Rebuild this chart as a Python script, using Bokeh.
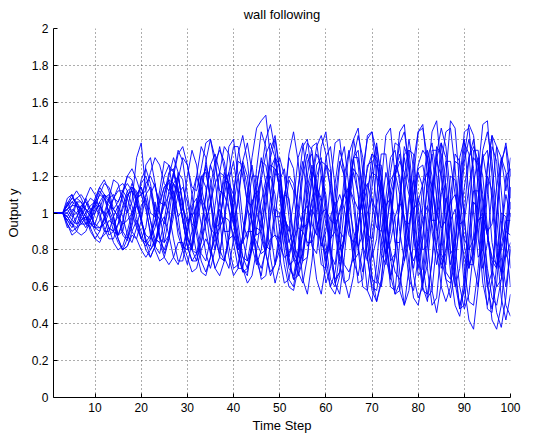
from bokeh.plotting import figure
from bokeh.models import ColumnDataSource, FixedTicker, Range1d
from bokeh.embed import file_html
from bokeh.resources import INLINE

title_text = "wall following"
x_label = "Time Step"
y_label = "Output y"
x_ticks = [10, 20, 30, 40, 50, 60, 70, 80, 90, 100]
y_ticks = [0, 0.2, 0.4, 0.6, 0.8, 1, 1.2, 1.4, 1.6, 1.8, 2]

s01 = [1,1,1,1.05,1.1,1.04,0.96,0.92,0.98,1.06,1.12,1.08,1.04,1.02,0.98,0.88,0.85,0.93,1.05,1.16,1.2,1.12,0.98,0.86,0.8,0.88,1.02,1.18,1.3,1.26,1.1,0.92,0.78,0.74,0.86,1.04,1.22,1.36,1.32,1.14,0.94,0.76,0.7,0.82,1.02,1.22,1.4,1.48,1.34,1.1,0.86,0.7,0.66,0.8,1.0,1.2,1.36,1.38,1.2,0.98,0.76,0.62,0.68,0.88,1.1,1.3,1.42,1.3,1.06,0.82,0.64,0.6,0.76,0.98,1.2,1.38,1.44,1.26,1.0,0.76,0.58,0.56,0.74,1.0,1.26,1.44,1.46,1.24,0.96,0.7,0.52,0.5,0.7,0.98,1.26,1.42,1.36,1.12,0.84,0.6]
s02 = [1,1,1,0.96,0.92,0.97,1.04,1.06,1.0,0.92,0.9,0.97,1.08,1.1,1.02,0.9,0.86,0.95,1.1,1.14,1.04,0.88,0.82,0.92,1.1,1.18,1.06,0.88,0.8,0.9,1.1,1.2,1.1,0.9,0.78,0.86,1.06,1.22,1.16,0.96,0.8,0.84,1.02,1.2,1.2,1.0,0.82,0.8,0.98,1.18,1.24,1.06,0.84,0.76,0.9,1.14,1.26,1.12,0.88,0.74,0.84,1.08,1.28,1.2,0.94,0.74,0.78,1.02,1.26,1.28,1.04,0.78,0.72,0.94,1.22,1.32,1.12,0.84,0.7,0.86,1.16,1.34,1.2,0.9,0.7,0.78,1.08,1.32,1.28,0.98,0.72,0.72,1.0,1.3,1.34,1.06,0.76,0.68,0.92,1.24]
s03 = [1,1,1,0.98,0.94,0.9,0.88,0.9,0.96,1.02,1.04,1.0,0.92,0.84,0.8,0.82,0.9,1.0,1.08,1.1,1.02,0.9,0.8,0.74,0.76,0.86,0.98,1.1,1.14,1.06,0.92,0.78,0.68,0.66,0.76,0.92,1.08,1.18,1.16,1.02,0.84,0.7,0.62,0.66,0.8,0.98,1.14,1.2,1.1,0.9,0.72,0.6,0.58,0.7,0.9,1.1,1.22,1.18,0.98,0.76,0.6,0.56,0.66,0.88,1.1,1.24,1.2,1.0,0.76,0.58,0.52,0.64,0.88,1.12,1.26,1.2,0.96,0.72,0.54,0.5,0.64,0.9,1.14,1.28,1.2,0.94,0.68,0.5,0.44,0.6,0.88,1.16,1.3,1.2,0.92,0.64,0.46,0.38,0.54,0.82]
s04 = [1,1,1,1.04,1.08,1.06,1.0,0.96,1.0,1.08,1.14,1.1,1.0,0.94,0.98,1.1,1.2,1.18,1.06,0.96,1.26,1.3,1.16,1.0,0.94,1.04,1.22,1.34,1.28,1.1,0.94,0.92,1.08,1.28,1.4,1.3,1.08,0.9,0.9,1.1,1.32,1.42,1.28,1.04,0.88,0.9,1.12,1.34,1.42,1.24,1.0,0.84,0.9,1.14,1.36,1.4,1.2,0.96,0.82,0.9,1.16,1.38,1.4,1.18,0.94,0.8,0.9,1.18,1.42,1.44,1.2,0.92,0.78,0.9,1.2,1.44,1.48,1.22,0.9,0.74,0.86,1.16,1.44,1.5,1.24,0.92,0.72,0.84,1.16,1.44,1.46,1.18,0.86,0.7,0.84,1.12,1.36,1.3,1.12,1.3]
s05 = [1,1,1,1.02,0.98,1.0,1.04,1.02,0.98,1.0,1.06,1.1,1.06,1.02,1.06,1.12,1.16,1.12,1.08,1.1,1.16,1.2,1.14,1.06,1.04,1.1,1.16,1.12,1.02,0.96,0.98,1.04,1.08,1.02,0.92,0.88,0.92,0.98,0.96,0.88,0.82,0.84,0.9,0.9,0.84,0.78,0.8,0.86,0.88,0.82,0.76,0.78,0.86,0.92,0.9,0.84,0.84,0.92,1.0,1.02,0.96,0.94,1.0,1.1,1.14,1.08,1.02,1.04,1.14,1.22,1.2,1.1,1.04,1.08,1.2,1.28,1.22,1.1,1.02,1.06,1.16,1.22,1.14,1.0,0.92,0.96,1.06,1.1,1.0,0.86,0.8,0.86,0.96,0.98,0.88,0.76,0.72,0.8,0.9,0.88]
s06 = [1,1,1,1.06,1.0,0.94,1.0,1.08,1.02,0.92,0.96,1.08,1.1,0.98,0.88,0.94,1.1,1.12,0.98,0.86,0.92,1.1,1.16,1.0,0.84,0.88,1.08,1.2,1.06,0.86,0.82,1.0,1.2,1.14,0.92,0.8,0.92,1.16,1.22,1.0,0.8,0.86,1.1,1.26,1.1,0.86,0.78,0.98,1.24,1.2,0.94,0.76,0.86,1.14,1.28,1.08,0.82,0.78,1.0,1.26,1.22,0.94,0.74,0.84,1.12,1.3,1.1,0.82,0.74,0.96,1.26,1.26,0.98,0.74,0.78,1.06,1.3,1.16,0.86,0.7,0.86,1.18,1.32,1.08,0.78,0.72,0.98,1.28,1.26,0.96,0.72,0.78,1.08,1.32,1.16,0.84,0.7,0.88,1.2,1.24]
s07 = [1,1,1,0.94,0.9,0.92,0.98,1.04,1.08,1.06,1.0,0.92,0.86,0.86,0.94,1.04,1.12,1.14,1.08,0.96,0.86,0.8,0.84,0.96,1.1,1.22,1.24,1.12,0.96,0.82,0.74,0.78,0.92,1.1,1.26,1.32,1.22,1.02,0.82,0.7,0.72,0.88,1.08,1.3,1.46,1.5,1.53,1.3,1.0,0.76,0.62,0.64,0.8,1.02,1.24,1.38,1.34,1.14,0.9,0.7,0.6,0.68,0.88,1.12,1.32,1.4,1.26,1.0,0.76,0.6,0.58,0.74,0.98,1.22,1.38,1.36,1.14,0.88,0.66,0.54,0.6,0.82,1.08,1.32,1.46,1.36,1.1,0.82,0.6,0.48,0.56,0.8,1.08,1.34,1.44,1.28,0.98,0.7,0.5,0.44]
s08 = [1,1,1,0.96,0.94,0.98,1.02,0.98,0.9,0.86,0.9,0.98,1.02,0.96,0.86,0.8,0.86,0.98,1.04,0.96,0.84,0.76,0.82,0.96,1.06,1.0,0.86,0.74,0.74,0.88,1.04,1.08,0.94,0.78,0.7,0.8,0.98,1.1,1.02,0.84,0.7,0.7,0.86,1.06,1.12,0.98,0.78,0.66,0.72,0.92,1.1,1.08,0.88,0.68,0.62,0.76,0.98,1.14,1.06,0.84,0.64,0.6,0.78,1.02,1.16,1.04,0.8,0.6,0.58,0.78,1.04,1.18,1.02,0.76,0.56,0.58,0.82,1.08,1.18,0.98,0.72,0.54,0.58,0.84,1.1,1.16,0.94,0.66,0.5,0.58,0.86,1.12,1.12,0.86,0.6,0.48,0.62,0.9,1.1,0.98]
s09 = [1,1,1,1.02,1.06,1.04,0.98,0.94,0.96,1.04,1.1,1.08,1.0,0.9,0.88,0.96,1.08,1.16,1.1,1.14,1.06,0.96,0.86,0.84,0.96,1.12,1.22,1.14,0.96,0.82,0.8,0.94,1.14,1.26,1.18,0.98,0.8,0.74,0.88,1.1,1.28,1.26,1.04,0.82,0.72,0.8,1.02,1.24,1.3,1.12,0.88,0.72,0.74,0.96,1.2,1.32,1.18,0.92,0.72,0.7,0.9,1.16,1.34,1.24,0.98,0.74,0.66,0.82,1.08,1.32,1.3,1.04,0.76,0.64,0.78,1.06,1.32,1.34,1.08,0.78,0.62,0.72,1.0,1.3,1.38,1.12,0.8,0.6,0.7,1.0,1.3,1.4,1.14,0.82,0.6,0.68,0.98,1.28,1.36,1.08]
s10 = [1,1,1,1.0,1.04,1.08,1.1,1.06,1.02,1.04,1.1,1.16,1.14,1.08,1.06,1.12,1.2,1.24,1.18,1.1,1.12,1.22,1.3,1.26,1.16,1.12,1.2,1.32,1.36,1.26,1.14,1.12,1.24,1.38,1.4,1.26,1.12,1.1,1.22,1.36,1.36,1.2,1.06,1.04,1.16,1.28,1.26,1.1,0.98,0.98,1.1,1.2,1.16,1.02,0.92,0.94,1.06,1.14,1.08,0.94,0.86,0.9,1.02,1.1,1.04,0.9,0.82,0.88,1.0,1.08,1.0,0.86,0.78,0.84,0.98,1.06,0.98,0.82,0.74,0.82,0.96,1.04,0.94,0.8,0.72,0.8,0.96,1.02,0.9,0.76,0.7,0.8,0.96,1.0,0.88,0.74,0.7,0.82,0.96,0.96]
s11 = [1,1,1,0.98,0.94,0.92,0.94,0.98,0.96,0.9,0.86,0.88,0.92,0.9,0.84,0.8,0.82,0.88,0.86,0.8,0.76,0.8,0.86,0.84,0.76,0.72,0.76,0.84,0.84,0.76,0.68,0.7,0.8,0.86,0.8,0.7,0.66,0.74,0.86,0.88,0.78,0.68,0.68,0.8,0.92,0.9,0.78,0.68,0.72,0.86,0.96,0.92,0.8,0.72,0.78,0.94,1.02,0.96,0.84,0.78,0.86,1.02,1.1,1.02,0.88,0.84,0.94,1.1,1.16,1.06,0.92,0.9,1.02,1.18,1.22,1.1,0.96,0.94,1.08,1.24,1.26,1.12,0.96,0.96,1.12,1.28,1.28,1.1,0.94,0.96,1.14,1.3,1.26,1.06,0.9,0.94,1.14,1.3,1.22,1.02]
s12 = [1,1,1,1.04,1.06,1.08,1.06,1.02,0.98,0.94,0.92,0.94,1.0,1.08,1.14,1.16,1.12,1.04,0.94,0.86,0.82,0.86,0.96,1.08,1.2,1.26,1.22,1.1,0.96,0.82,0.74,0.74,0.84,0.98,1.14,1.28,1.34,1.28,1.12,0.94,0.78,0.68,0.7,0.82,1.0,1.18,1.32,1.38,1.3,1.12,0.92,0.74,0.64,0.66,0.8,1.0,1.2,1.36,1.42,1.32,1.12,0.9,0.72,0.62,0.64,0.8,1.02,1.24,1.4,1.44,1.32,1.1,0.86,0.66,0.56,0.62,0.8,1.04,1.28,1.44,1.46,1.3,1.04,0.8,0.6,0.52,0.6,0.82,1.08,1.32,1.48,1.42,1.2,0.94,0.7,0.54,0.5,0.64,0.9,1.14]
s13 = [1,1,1,0.92,0.96,1.06,1.02,0.94,0.92,1.0,1.06,0.98,0.88,0.9,1.02,1.1,1.02,0.9,0.86,0.96,1.1,1.14,1.0,0.86,0.84,0.98,1.16,1.2,1.04,0.86,0.8,0.96,1.18,1.24,1.06,0.86,0.78,0.94,1.18,1.28,1.1,0.86,0.74,0.88,1.14,1.3,1.16,0.9,0.72,0.8,1.06,1.3,1.24,0.96,0.74,0.76,1.0,1.26,1.3,1.04,0.78,0.72,0.92,1.2,1.34,1.12,0.82,0.68,0.84,1.14,1.36,1.2,0.88,0.66,0.76,1.08,1.36,1.28,0.94,0.66,0.7,1.0,1.34,1.34,1.0,0.68,0.64,0.94,1.3,1.4,1.08,0.72,0.6,0.86,1.24,1.42,1.14,0.76,0.6,0.8]
s14 = [1,1,1,1.0,0.96,0.94,0.96,1.0,1.04,1.06,1.04,0.98,0.92,0.9,0.94,1.02,1.1,1.12,1.06,0.96,0.88,0.86,0.92,1.04,1.14,1.16,1.06,0.92,0.82,0.8,0.9,1.06,1.2,1.22,1.08,0.9,0.76,0.74,0.86,1.04,1.2,1.26,1.14,0.94,0.76,0.7,0.8,1.0,1.2,1.3,1.2,0.98,0.76,0.66,0.74,0.96,1.18,1.32,1.26,1.04,0.8,0.64,0.68,0.9,1.14,1.3,1.3,1.1,0.84,0.64,0.62,0.82,1.08,1.3,1.34,1.16,0.88,0.64,0.58,0.76,1.04,1.3,1.38,1.2,0.9,0.64,0.54,0.7,1.0,1.28,1.4,1.24,0.92,0.62,0.5,0.64,0.96,1.26,1.38,1.2]
s15 = [1,1,1,1.08,1.1,1.04,1.02,1.08,1.14,1.1,1.02,1.0,1.08,1.18,1.16,1.06,1.0,1.06,1.3,1.38,1.12,1.0,0.98,1.12,1.28,1.26,1.1,0.98,1.02,1.2,1.34,1.26,1.06,0.96,1.04,1.24,1.36,1.24,1.02,0.94,1.06,1.28,1.38,1.22,1.0,0.92,1.06,1.3,1.4,1.22,0.98,0.9,1.06,1.3,1.38,1.18,0.94,0.88,1.06,1.3,1.36,1.14,0.9,0.86,1.06,1.3,1.34,1.1,0.88,0.86,1.08,1.32,1.32,1.06,0.84,0.84,1.08,1.34,1.32,1.04,0.8,0.82,1.1,1.36,1.32,1.02,0.78,0.82,1.1,1.38,1.32,1.0,0.76,0.8,1.1,1.36,1.28,0.96,0.76,0.84]
s16 = [1,1,1,0.94,0.88,0.9,0.96,0.98,0.92,0.86,0.84,0.9,0.96,0.94,0.86,0.8,0.82,0.9,0.96,0.9,0.8,0.76,0.82,0.94,0.98,0.88,0.76,0.72,0.8,0.94,1.0,0.88,0.74,0.68,0.76,0.92,1.02,0.92,0.76,0.66,0.7,0.88,1.02,0.96,0.78,0.64,0.66,0.84,1.02,1.0,0.8,0.64,0.6,0.78,1.0,1.04,0.84,0.64,0.56,0.72,0.98,1.06,0.88,0.64,0.54,0.66,0.94,1.08,0.92,0.66,0.52,0.62,0.9,1.08,0.96,0.68,0.5,0.58,0.86,1.08,0.98,0.7,0.5,0.54,0.82,1.08,1.0,0.72,0.48,0.5,0.78,1.06,1.02,0.74,0.48,0.46,0.72,1.0,0.98,0.7]
s17 = [1,1,1,1.02,1.04,1.04,1.02,0.98,0.94,0.92,0.92,0.96,1.02,1.08,1.12,1.12,1.08,1.0,0.92,0.86,0.84,0.88,0.96,1.06,1.14,1.18,1.16,1.08,0.98,0.88,0.8,0.78,0.84,0.94,1.06,1.16,1.22,1.2,1.1,0.98,0.86,0.76,0.74,0.8,0.92,1.06,1.18,1.26,1.24,1.14,1.0,0.86,0.76,0.72,0.78,0.92,1.08,1.2,1.28,1.26,1.14,0.98,0.84,0.72,0.68,0.76,0.92,1.1,1.24,1.32,1.28,1.14,0.96,0.8,0.68,0.64,0.74,0.92,1.1,1.26,1.34,1.3,1.14,0.94,0.76,0.64,0.62,0.74,0.94,1.14,1.3,1.36,1.28,1.1,0.88,0.7,0.6,0.64,0.8,1.0]
s18 = [1,1,1,0.98,1.02,1.0,0.94,0.94,1.0,1.04,0.98,0.9,0.9,0.98,1.04,0.98,0.88,0.84,0.92,1.04,1.08,0.96,0.82,0.78,0.9,1.06,1.12,0.98,0.8,0.72,0.84,1.04,1.14,1.02,0.82,0.7,0.76,0.98,1.16,1.1,0.88,0.7,0.66,0.86,1.1,1.18,1.0,0.76,0.62,0.72,0.98,1.18,1.12,0.88,0.64,0.56,0.74,1.02,1.2,1.1,0.84,0.62,0.56,0.76,1.04,1.22,1.1,0.82,0.58,0.52,0.72,1.02,1.22,1.12,0.84,0.58,0.5,0.7,1.0,1.22,1.14,0.86,0.58,0.46,0.62,0.94,1.2,1.18,0.9,0.6,0.42,0.37,0.6,0.94,1.2,1.12,0.82,0.54,0.42,0.56]
s19 = [1,1,1,1.04,1.08,1.12,1.08,1.02,1.0,1.06,1.14,1.18,1.12,1.02,0.98,0.94,0.96,1.0,1.06,1.18,1.24,1.16,1.02,0.96,1.04,1.2,1.3,1.22,1.04,0.94,1.0,1.2,1.36,1.3,1.08,0.92,0.94,1.14,1.36,1.4,1.2,0.96,0.86,0.98,1.24,1.44,1.36,1.1,0.88,0.86,1.06,1.32,1.44,1.28,1.0,0.82,0.86,1.1,1.36,1.44,1.24,0.96,0.8,0.86,1.14,1.4,1.46,1.22,0.92,0.76,0.86,1.16,1.42,1.46,1.2,0.9,0.74,0.86,1.18,1.44,1.48,1.22,0.9,0.72,0.84,1.2,1.5,1.46,1.14,0.82,0.7,0.88,1.22,1.48,1.5,1.2,0.86,0.66,0.8,1.14]
s20 = [1,1,1,0.96,1.0,1.06,1.06,1.0,0.94,0.94,1.02,1.1,1.08,0.98,0.88,0.9,1.02,1.14,1.12,0.98,0.84,0.82,1.06,0.88,0.78,0.86,1.06,1.22,1.18,0.98,0.8,0.74,0.88,1.1,1.26,1.18,0.96,0.76,0.7,0.86,1.1,1.28,1.2,0.96,0.74,0.66,0.82,1.08,1.3,1.26,1.0,0.76,0.64,0.76,1.02,1.28,1.32,1.08,0.8,0.62,0.7,0.98,1.26,1.36,1.14,0.84,0.62,0.64,0.92,1.24,1.38,1.18,0.86,0.6,0.58,0.84,1.18,1.4,1.24,0.9,0.6,0.52,0.74,1.1,1.38,1.3,0.96,0.62,0.48,0.64,1.0,1.34,1.34,1.0,0.64,0.42,0.37,0.5,0.78,1.06]

series = [s01, s02, s03, s04, s05, s06, s07, s08, s09, s10,
          s11, s12, s13, s14, s15, s16, s17, s18, s19, s20]

xs = [list(range(1, len(s) + 1)) for s in series]
source = ColumnDataSource(data=dict(xs=xs, ys=series))

FONT = "Liberation Sans"

p = figure(width=536, height=444, output_backend="svg", toolbar_location=None,
           x_range=Range1d(1, 100), y_range=Range1d(0, 2),
           min_border_left=53, min_border_right=26, min_border_top=28, min_border_bottom=47)

p.multi_line(xs="xs", ys="ys", source=source, line_color="#0000ff", line_width=1, line_alpha=0.9)

p.title.text = title_text
p.title.align = "center"
p.title.vertical_align = "top"
p.title.text_font = FONT
p.title.text_font_size = "13px"
p.title.text_font_style = "normal"
p.title.text_color = "#000000"

p.outline_line_color = None
p.background_fill_color = "white"
p.border_fill_color = "white"

p.xaxis.ticker = FixedTicker(ticks=x_ticks)
p.yaxis.ticker = FixedTicker(ticks=y_ticks)
p.yaxis.major_label_overrides = {0: "0", 1: "1", 2: "2"}
p.xaxis.axis_label = x_label
p.yaxis.axis_label = y_label

for ax in (p.xaxis, p.yaxis):
    ax.axis_line_color = "black"
    ax.major_tick_line_color = "black"
    ax.major_tick_in = 4
    ax.major_tick_out = 0
    ax.minor_tick_line_color = None
    ax.major_label_text_font = FONT
    ax.major_label_text_font_size = "12px"
    ax.major_label_text_color = "black"
    ax.axis_label_text_font = FONT
    ax.axis_label_text_font_size = "13px"
    ax.axis_label_text_font_style = "normal"
    ax.axis_label_text_color = "black"

p.xaxis.axis_label_standoff = 3
p.yaxis.axis_label_standoff = 8

p.grid.grid_line_color = "#333333"
p.grid.grid_line_dash = "1 3"
p.grid.grid_line_alpha = 0.8

open("out.html", "w").write(file_html(p, INLINE))
